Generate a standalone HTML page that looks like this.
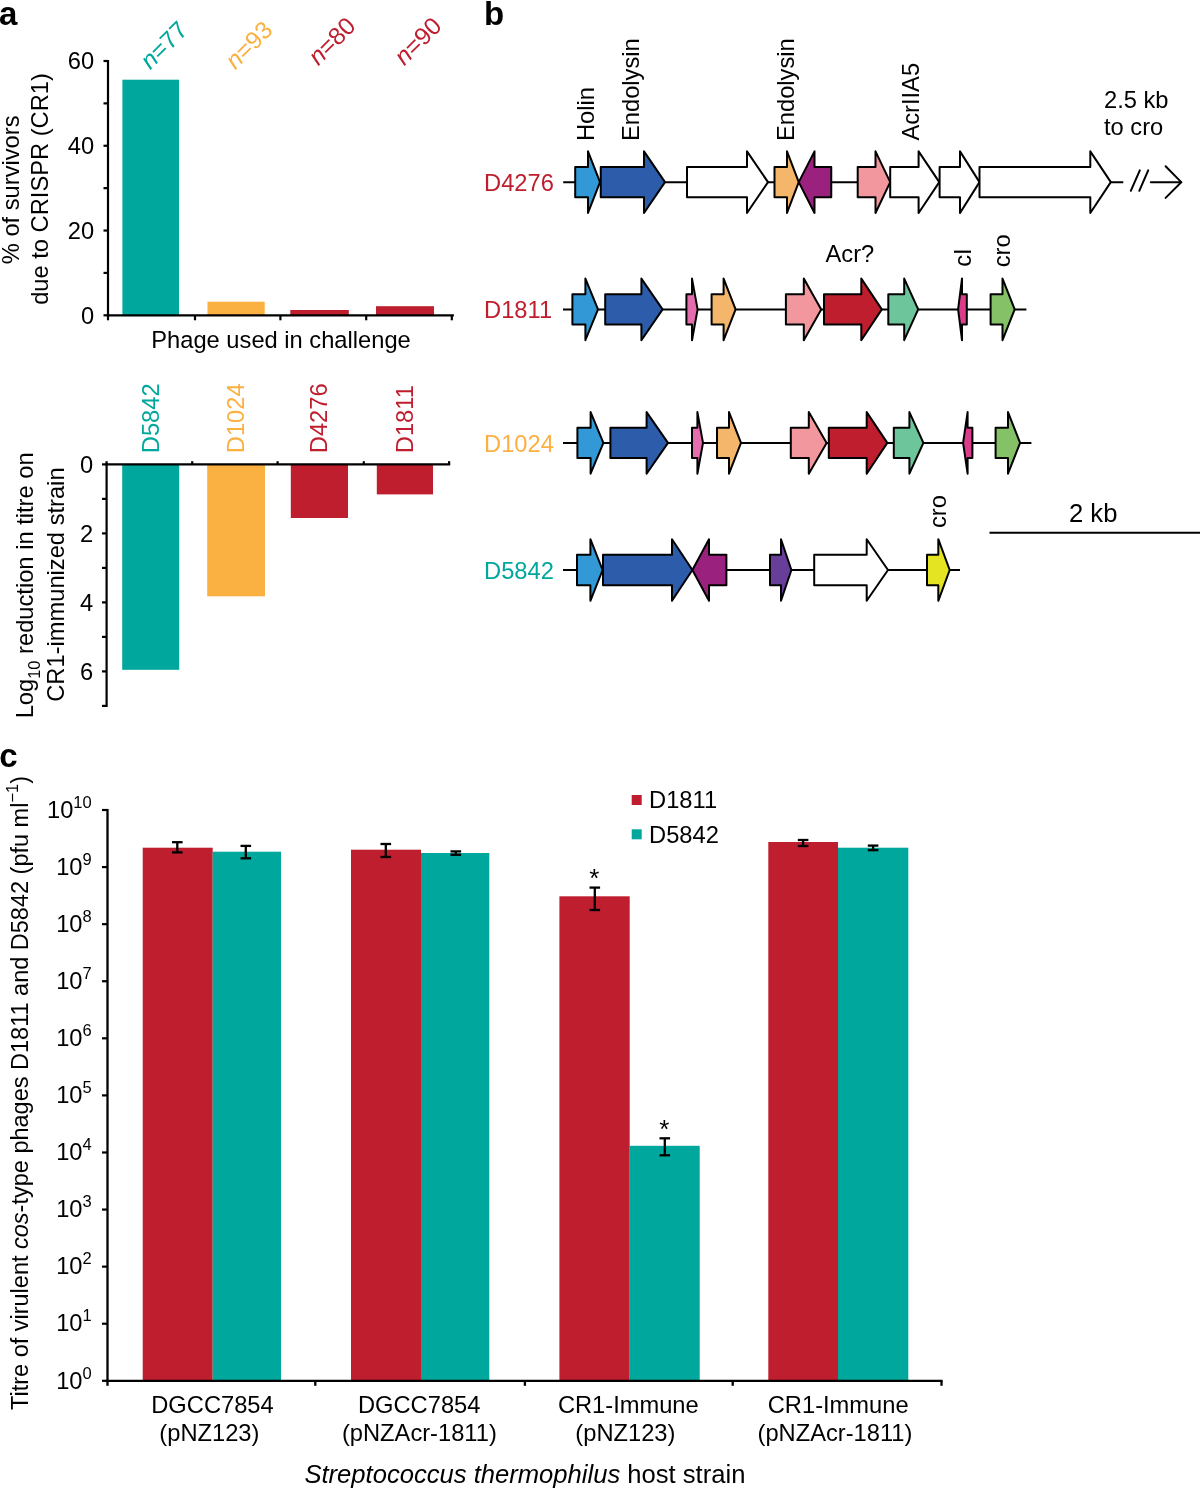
<!DOCTYPE html>
<html><head><meta charset="utf-8"><style>
html,body{margin:0;padding:0;background:#fff;width:1200px;height:1488px;overflow:hidden}
svg{display:block;will-change:transform}
text{font-family:"Liberation Sans",sans-serif}
</style></head><body>
<svg width="1200" height="1488" viewBox="0 0 1200 1488">
<text x="-1" y="24.7" font-size="33" fill="#000" text-anchor="start" font-weight="bold">a</text>
<text x="484" y="24.5" font-size="33" fill="#000" text-anchor="start" font-weight="bold">b</text>
<text x="-0.8" y="767.2" font-size="33" fill="#000" text-anchor="start" font-weight="bold">c</text>
<line x1="103.5" y1="61.0" x2="108" y2="61.0" stroke="#000" stroke-width="2.2" stroke-linecap="butt"/>
<line x1="103.5" y1="103.38333333333333" x2="108" y2="103.38333333333333" stroke="#000" stroke-width="2.2" stroke-linecap="butt"/>
<line x1="103.5" y1="145.76666666666665" x2="108" y2="145.76666666666665" stroke="#000" stroke-width="2.2" stroke-linecap="butt"/>
<line x1="103.5" y1="188.15000000000003" x2="108" y2="188.15000000000003" stroke="#000" stroke-width="2.2" stroke-linecap="butt"/>
<line x1="103.5" y1="230.53333333333333" x2="108" y2="230.53333333333333" stroke="#000" stroke-width="2.2" stroke-linecap="butt"/>
<line x1="103.5" y1="272.91666666666663" x2="108" y2="272.91666666666663" stroke="#000" stroke-width="2.2" stroke-linecap="butt"/>
<line x1="103.5" y1="315.30000000000007" x2="108" y2="315.30000000000007" stroke="#000" stroke-width="2.2" stroke-linecap="butt"/>
<text x="94.1" y="69.2" font-size="23.7" fill="#000" text-anchor="end">60</text>
<text x="94.1" y="153.96666666666667" font-size="23.7" fill="#000" text-anchor="end">40</text>
<text x="94.1" y="238.73333333333335" font-size="23.7" fill="#000" text-anchor="end">20</text>
<text x="94.1" y="323.5" font-size="23.7" fill="#000" text-anchor="end">0</text>
<rect x="122.4" y="79.7" width="56.599999999999994" height="235.60000000000002" fill="#00A79D"/>
<rect x="207.5" y="301.7" width="57.19999999999999" height="13.600000000000023" fill="#FBB042"/>
<rect x="290.3" y="310" width="58.5" height="5.300000000000011" fill="#BE1E2D"/>
<rect x="376" y="306.2" width="58" height="9.100000000000023" fill="#BE1E2D"/>
<line x1="108" y1="59.9" x2="108" y2="316.40000000000003" stroke="#000" stroke-width="2.2" stroke-linecap="butt"/>
<line x1="106.9" y1="315.3" x2="453.90000000000003" y2="315.3" stroke="#000" stroke-width="2.2" stroke-linecap="butt"/>
<line x1="108" y1="315.3" x2="108" y2="320.3" stroke="#000" stroke-width="2.2" stroke-linecap="butt"/>
<line x1="195" y1="315.3" x2="195" y2="320.3" stroke="#000" stroke-width="2.2" stroke-linecap="butt"/>
<line x1="280.4" y1="315.3" x2="280.4" y2="320.3" stroke="#000" stroke-width="2.2" stroke-linecap="butt"/>
<line x1="366.2" y1="315.3" x2="366.2" y2="320.3" stroke="#000" stroke-width="2.2" stroke-linecap="butt"/>
<line x1="451.8" y1="315.3" x2="451.8" y2="320.3" stroke="#000" stroke-width="2.2" stroke-linecap="butt"/>
<text x="151.3" y="347.8" font-size="23.7" fill="#000" text-anchor="start">Phage used in challenge</text>
<text transform="translate(19.2,189.85) rotate(-90)" font-size="23.7" fill="#000" text-anchor="middle">% of survivors</text>
<text transform="translate(48.1,189.0) rotate(-90)" font-size="23.7" fill="#000" text-anchor="middle">due to CRISPR (CR1)</text>
<text transform="translate(150.3,70.3) rotate(-45)" font-size="24.4" fill="#00A79D"><tspan font-style="italic">n</tspan>=77</text>
<text transform="translate(235.3,70.3) rotate(-45)" font-size="24.4" fill="#FBB042"><tspan font-style="italic">n</tspan>=93</text>
<text transform="translate(318.3,66.3) rotate(-45)" font-size="24.4" fill="#BE1E2D"><tspan font-style="italic">n</tspan>=80</text>
<text transform="translate(404.3,66.3) rotate(-45)" font-size="24.4" fill="#BE1E2D"><tspan font-style="italic">n</tspan>=90</text>
<line x1="102" y1="464.4" x2="106.6" y2="464.4" stroke="#000" stroke-width="2.2" stroke-linecap="butt"/>
<line x1="102" y1="498.9" x2="106.6" y2="498.9" stroke="#000" stroke-width="2.2" stroke-linecap="butt"/>
<line x1="102" y1="533.4" x2="106.6" y2="533.4" stroke="#000" stroke-width="2.2" stroke-linecap="butt"/>
<line x1="102" y1="567.9" x2="106.6" y2="567.9" stroke="#000" stroke-width="2.2" stroke-linecap="butt"/>
<line x1="102" y1="602.4" x2="106.6" y2="602.4" stroke="#000" stroke-width="2.2" stroke-linecap="butt"/>
<line x1="102" y1="636.9" x2="106.6" y2="636.9" stroke="#000" stroke-width="2.2" stroke-linecap="butt"/>
<line x1="102" y1="671.4" x2="106.6" y2="671.4" stroke="#000" stroke-width="2.2" stroke-linecap="butt"/>
<line x1="102" y1="705.9" x2="106.6" y2="705.9" stroke="#000" stroke-width="2.2" stroke-linecap="butt"/>
<text x="93.3" y="472.59999999999997" font-size="23.7" fill="#000" text-anchor="end">0</text>
<text x="93.3" y="541.6" font-size="23.7" fill="#000" text-anchor="end">2</text>
<text x="93.3" y="610.6" font-size="23.7" fill="#000" text-anchor="end">4</text>
<text x="93.3" y="679.6" font-size="23.7" fill="#000" text-anchor="end">6</text>
<rect x="122.2" y="464.4" width="56.999999999999986" height="205.39999999999998" fill="#00A79D"/>
<rect x="207.2" y="464.4" width="57.80000000000001" height="131.89999999999998" fill="#FBB042"/>
<rect x="290.8" y="464.4" width="57.19999999999999" height="53.60000000000002" fill="#BE1E2D"/>
<rect x="376.8" y="464.4" width="56.19999999999999" height="30.0" fill="#BE1E2D"/>
<line x1="106.6" y1="463.29999999999995" x2="106.6" y2="707.0" stroke="#000" stroke-width="2.2" stroke-linecap="butt"/>
<line x1="105.5" y1="464.4" x2="450.2" y2="464.4" stroke="#000" stroke-width="2.2" stroke-linecap="butt"/>
<line x1="106.6" y1="464.4" x2="106.6" y2="461.2" stroke="#000" stroke-width="2.2" stroke-linecap="butt"/>
<line x1="192.2" y1="464.4" x2="192.2" y2="461.2" stroke="#000" stroke-width="2.2" stroke-linecap="butt"/>
<line x1="277.6" y1="464.4" x2="277.6" y2="461.2" stroke="#000" stroke-width="2.2" stroke-linecap="butt"/>
<line x1="363.8" y1="464.4" x2="363.8" y2="461.2" stroke="#000" stroke-width="2.2" stroke-linecap="butt"/>
<line x1="449.1" y1="464.4" x2="449.1" y2="461.2" stroke="#000" stroke-width="2.2" stroke-linecap="butt"/>
<text transform="translate(159.3,453.2) rotate(-90)" font-size="23.7" fill="#00A79D" text-anchor="start">D5842</text>
<text transform="translate(244.3,453.2) rotate(-90)" font-size="23.7" fill="#FBB042" text-anchor="start">D1024</text>
<text transform="translate(327.3,453.2) rotate(-90)" font-size="23.7" fill="#BE1E2D" text-anchor="start">D4276</text>
<text transform="translate(412.8,453.2) rotate(-90)" font-size="23.7" fill="#BE1E2D" text-anchor="start">D1811</text>
<text transform="translate(33.2,585.4) rotate(-90)" font-size="23.7" text-anchor="middle">Log<tspan font-size="16.5" dy="6.8">10</tspan><tspan dy="-6.8"> reduction in titre on</tspan></text>
<text transform="translate(64.3,584.6) rotate(-90)" font-size="23.7" fill="#000" text-anchor="middle">CR1-immunized strain</text>
<line x1="563.2" y1="182.15" x2="1123.3" y2="182.15" stroke="#000" stroke-width="2" stroke-linecap="butt"/>
<polygon points="575.20,167.00 588.00,167.00 588.00,151.35 600.00,182.15 588.00,212.95 588.00,197.30 575.20,197.30" fill="#3399D6" stroke="#000" stroke-width="2" stroke-linejoin="round"/>
<polygon points="600.75,167.00 644.00,167.00 644.00,151.35 665.00,182.15 644.00,212.95 644.00,197.30 600.75,197.30" fill="#2D5DAA" stroke="#000" stroke-width="2" stroke-linejoin="round"/>
<polygon points="687.00,167.00 747.00,167.00 747.00,151.35 768.00,182.15 747.00,212.95 747.00,197.30 687.00,197.30" fill="#FFFFFF" stroke="#000" stroke-width="2" stroke-linejoin="round"/>
<polygon points="774.50,167.00 787.00,167.00 787.00,151.35 798.75,182.15 787.00,212.95 787.00,197.30 774.50,197.30" fill="#F4B66B" stroke="#000" stroke-width="2" stroke-linejoin="round"/>
<polygon points="831.25,167.00 814.50,167.00 814.50,151.35 798.75,182.15 814.50,212.95 814.50,197.30 831.25,197.30" fill="#9B217F" stroke="#000" stroke-width="2" stroke-linejoin="round"/>
<polygon points="857.70,167.00 875.50,167.00 875.50,151.35 890.20,182.15 875.50,212.95 875.50,197.30 857.70,197.30" fill="#F3979F" stroke="#000" stroke-width="2" stroke-linejoin="round"/>
<polygon points="890.20,167.00 918.60,167.00 918.60,151.35 939.30,182.15 918.60,212.95 918.60,197.30 890.20,197.30" fill="#FFFFFF" stroke="#000" stroke-width="2" stroke-linejoin="round"/>
<polygon points="939.60,167.00 960.00,167.00 960.00,151.35 979.50,182.15 960.00,212.95 960.00,197.30 939.60,197.30" fill="#FFFFFF" stroke="#000" stroke-width="2" stroke-linejoin="round"/>
<polygon points="979.50,167.00 1090.30,167.00 1090.30,151.35 1110.80,182.15 1090.30,212.95 1090.30,197.30 979.50,197.30" fill="#FFFFFF" stroke="#000" stroke-width="2" stroke-linejoin="round"/>
<line x1="1130.8" y1="190.8" x2="1139.8" y2="170.4" stroke="#000" stroke-width="2" stroke-linecap="round"/>
<line x1="1139.3" y1="190.8" x2="1148.2" y2="170.4" stroke="#000" stroke-width="2" stroke-linecap="round"/>
<line x1="1150.8" y1="182.15" x2="1181" y2="182.15" stroke="#000" stroke-width="2" stroke-linecap="round"/>
<polyline points="1165.6,166.3 1181.25,182.15 1165.6,197.9" fill="none" stroke="#000" stroke-width="2" stroke-linecap="round"/>
<text x="484.1" y="190.8" font-size="23.7" fill="#BE1E2D" text-anchor="start">D4276</text>
<text transform="translate(594,141) rotate(-90)" font-size="23.7" fill="#000" text-anchor="start">Holin</text>
<text transform="translate(639.2,141) rotate(-90)" font-size="23.7" fill="#000" text-anchor="start">Endolysin</text>
<text transform="translate(794.3,141) rotate(-90)" font-size="23.7" fill="#000" text-anchor="start">Endolysin</text>
<text transform="translate(919.4,140.6) rotate(-90)" font-size="23.7" fill="#000" text-anchor="start">AcrIIA5</text>
<text x="1104" y="107.5" font-size="23.7" fill="#000" text-anchor="start">2.5 kb</text>
<text x="1104" y="135.4" font-size="23.7" fill="#000" text-anchor="start">to cro</text>
<line x1="563" y1="309.4" x2="1026.4" y2="309.4" stroke="#000" stroke-width="2" stroke-linecap="butt"/>
<polygon points="572.40,294.25 585.40,294.25 585.40,278.60 598.00,309.40 585.40,340.20 585.40,324.55 572.40,324.55" fill="#3399D6" stroke="#000" stroke-width="2" stroke-linejoin="round"/>
<polygon points="605.20,294.25 641.40,294.25 641.40,278.60 662.60,309.40 641.40,340.20 641.40,324.55 605.20,324.55" fill="#2D5DAA" stroke="#000" stroke-width="2" stroke-linejoin="round"/>
<polygon points="686.40,294.25 692.00,294.25 692.00,278.60 697.60,309.40 692.00,340.20 692.00,324.55 686.40,324.55" fill="#E56DAD" stroke="#000" stroke-width="2" stroke-linejoin="round"/>
<polygon points="711.60,294.25 723.60,294.25 723.60,278.60 735.60,309.40 723.60,340.20 723.60,324.55 711.60,324.55" fill="#F4B66B" stroke="#000" stroke-width="2" stroke-linejoin="round"/>
<polygon points="785.90,294.25 803.80,294.25 803.80,278.60 821.20,309.40 803.80,340.20 803.80,324.55 785.90,324.55" fill="#F3979F" stroke="#000" stroke-width="2" stroke-linejoin="round"/>
<polygon points="824.00,294.25 861.30,294.25 861.30,278.60 881.80,309.40 861.30,340.20 861.30,324.55 824.00,324.55" fill="#BE1E2D" stroke="#000" stroke-width="2" stroke-linejoin="round"/>
<polygon points="888.30,294.25 904.20,294.25 904.20,278.60 918.20,309.40 904.20,340.20 904.20,324.55 888.30,324.55" fill="#6DC59B" stroke="#000" stroke-width="2" stroke-linejoin="round"/>
<polygon points="966.80,294.25 962.00,294.25 962.00,278.60 958.10,309.40 962.00,340.20 962.00,324.55 966.80,324.55" fill="#DB3D8A" stroke="#000" stroke-width="2" stroke-linejoin="round"/>
<polygon points="990.60,294.25 1002.50,294.25 1002.50,278.60 1014.70,309.40 1002.50,340.20 1002.50,324.55 990.60,324.55" fill="#84C167" stroke="#000" stroke-width="2" stroke-linejoin="round"/>
<text x="484.1" y="317.5" font-size="23.7" fill="#BE1E2D" text-anchor="start">D1811</text>
<text x="825.5" y="261.7" font-size="23.7" fill="#000" text-anchor="start">Acr?</text>
<text transform="translate(970.8,266.8) rotate(-90)" font-size="23.7" fill="#000" text-anchor="start">cI</text>
<text transform="translate(1010,267.3) rotate(-90)" font-size="23.7" fill="#000" text-anchor="start">cro</text>
<line x1="563" y1="442.9" x2="1031.4" y2="442.9" stroke="#000" stroke-width="2" stroke-linecap="butt"/>
<polygon points="577.40,427.75 590.60,427.75 590.60,412.10 603.40,442.90 590.60,473.70 590.60,458.05 577.40,458.05" fill="#3399D6" stroke="#000" stroke-width="2" stroke-linejoin="round"/>
<polygon points="610.40,427.75 646.60,427.75 646.60,412.10 668.00,442.90 646.60,473.70 646.60,458.05 610.40,458.05" fill="#2D5DAA" stroke="#000" stroke-width="2" stroke-linejoin="round"/>
<polygon points="692.00,427.75 697.40,427.75 697.40,412.10 703.00,442.90 697.40,473.70 697.40,458.05 692.00,458.05" fill="#E56DAD" stroke="#000" stroke-width="2" stroke-linejoin="round"/>
<polygon points="717.00,427.75 729.00,427.75 729.00,412.10 741.00,442.90 729.00,473.70 729.00,458.05 717.00,458.05" fill="#F4B66B" stroke="#000" stroke-width="2" stroke-linejoin="round"/>
<polygon points="790.80,427.75 808.80,427.75 808.80,412.10 826.60,442.90 808.80,473.70 808.80,458.05 790.80,458.05" fill="#F3979F" stroke="#000" stroke-width="2" stroke-linejoin="round"/>
<polygon points="828.80,427.75 866.70,427.75 866.70,412.10 887.30,442.90 866.70,473.70 866.70,458.05 828.80,458.05" fill="#BE1E2D" stroke="#000" stroke-width="2" stroke-linejoin="round"/>
<polygon points="893.80,427.75 909.40,427.75 909.40,412.10 923.40,442.90 909.40,473.70 909.40,458.05 893.80,458.05" fill="#6DC59B" stroke="#000" stroke-width="2" stroke-linejoin="round"/>
<polygon points="972.40,427.75 967.60,427.75 967.60,412.10 963.10,442.90 967.60,473.70 967.60,458.05 972.40,458.05" fill="#DB3D8A" stroke="#000" stroke-width="2" stroke-linejoin="round"/>
<polygon points="995.60,427.75 1008.00,427.75 1008.00,412.10 1020.10,442.90 1008.00,473.70 1008.00,458.05 995.60,458.05" fill="#84C167" stroke="#000" stroke-width="2" stroke-linejoin="round"/>
<text x="484.1" y="451.9" font-size="23.7" fill="#FBB042" text-anchor="start">D1024</text>
<line x1="563" y1="570.0" x2="960" y2="570.0" stroke="#000" stroke-width="2" stroke-linecap="butt"/>
<polygon points="577.00,554.85 590.40,554.85 590.40,539.20 602.60,570.00 590.40,600.80 590.40,585.15 577.00,585.15" fill="#3399D6" stroke="#000" stroke-width="2" stroke-linejoin="round"/>
<polygon points="603.00,554.85 672.00,554.85 672.00,539.20 692.40,570.00 672.00,600.80 672.00,585.15 603.00,585.15" fill="#2D5DAA" stroke="#000" stroke-width="2" stroke-linejoin="round"/>
<polygon points="726.40,554.85 709.00,554.85 709.00,539.20 692.40,570.00 709.00,600.80 709.00,585.15 726.40,585.15" fill="#9B217F" stroke="#000" stroke-width="2" stroke-linejoin="round"/>
<polygon points="770.00,554.85 781.00,554.85 781.00,539.20 791.40,570.00 781.00,600.80 781.00,585.15 770.00,585.15" fill="#683F98" stroke="#000" stroke-width="2" stroke-linejoin="round"/>
<polygon points="814.20,554.85 866.70,554.85 866.70,539.20 888.00,570.00 866.70,600.80 866.70,585.15 814.20,585.15" fill="#FFFFFF" stroke="#000" stroke-width="2" stroke-linejoin="round"/>
<polygon points="927.00,554.85 938.30,554.85 938.30,539.20 949.70,570.00 938.30,600.80 938.30,585.15 927.00,585.15" fill="#E4E423" stroke="#000" stroke-width="2" stroke-linejoin="round"/>
<text x="484.1" y="578.8" font-size="23.7" fill="#00A79D" text-anchor="start">D5842</text>
<text transform="translate(945.7,528) rotate(-90)" font-size="23.7" fill="#000" text-anchor="start">cro</text>
<line x1="989.5" y1="532.7" x2="1200" y2="532.7" stroke="#000" stroke-width="2" stroke-linecap="butt"/>
<text x="1093.2" y="521.5" font-size="25.6" fill="#000" text-anchor="middle">2 kb</text>
<line x1="102" y1="1380.8" x2="107.5" y2="1380.8" stroke="#000" stroke-width="2.2" stroke-linecap="butt"/>
<text x="91.7" y="1388.50" font-size="23.7" text-anchor="end">10<tspan font-size="16.5" dy="-10">0</tspan></text>
<line x1="102" y1="1323.72" x2="107.5" y2="1323.72" stroke="#000" stroke-width="2.2" stroke-linecap="butt"/>
<text x="91.7" y="1331.42" font-size="23.7" text-anchor="end">10<tspan font-size="16.5" dy="-10">1</tspan></text>
<line x1="102" y1="1266.6399999999999" x2="107.5" y2="1266.6399999999999" stroke="#000" stroke-width="2.2" stroke-linecap="butt"/>
<text x="91.7" y="1274.34" font-size="23.7" text-anchor="end">10<tspan font-size="16.5" dy="-10">2</tspan></text>
<line x1="102" y1="1209.56" x2="107.5" y2="1209.56" stroke="#000" stroke-width="2.2" stroke-linecap="butt"/>
<text x="91.7" y="1217.26" font-size="23.7" text-anchor="end">10<tspan font-size="16.5" dy="-10">3</tspan></text>
<line x1="102" y1="1152.48" x2="107.5" y2="1152.48" stroke="#000" stroke-width="2.2" stroke-linecap="butt"/>
<text x="91.7" y="1160.18" font-size="23.7" text-anchor="end">10<tspan font-size="16.5" dy="-10">4</tspan></text>
<line x1="102" y1="1095.4" x2="107.5" y2="1095.4" stroke="#000" stroke-width="2.2" stroke-linecap="butt"/>
<text x="91.7" y="1103.10" font-size="23.7" text-anchor="end">10<tspan font-size="16.5" dy="-10">5</tspan></text>
<line x1="102" y1="1038.32" x2="107.5" y2="1038.32" stroke="#000" stroke-width="2.2" stroke-linecap="butt"/>
<text x="91.7" y="1046.02" font-size="23.7" text-anchor="end">10<tspan font-size="16.5" dy="-10">6</tspan></text>
<line x1="102" y1="981.24" x2="107.5" y2="981.24" stroke="#000" stroke-width="2.2" stroke-linecap="butt"/>
<text x="91.7" y="988.94" font-size="23.7" text-anchor="end">10<tspan font-size="16.5" dy="-10">7</tspan></text>
<line x1="102" y1="924.16" x2="107.5" y2="924.16" stroke="#000" stroke-width="2.2" stroke-linecap="butt"/>
<text x="91.7" y="931.86" font-size="23.7" text-anchor="end">10<tspan font-size="16.5" dy="-10">8</tspan></text>
<line x1="102" y1="867.0799999999999" x2="107.5" y2="867.0799999999999" stroke="#000" stroke-width="2.2" stroke-linecap="butt"/>
<text x="91.7" y="874.78" font-size="23.7" text-anchor="end">10<tspan font-size="16.5" dy="-10">9</tspan></text>
<line x1="102" y1="810.0" x2="107.5" y2="810.0" stroke="#000" stroke-width="2.2" stroke-linecap="butt"/>
<text x="91.7" y="817.70" font-size="23.7" text-anchor="end">10<tspan font-size="16.5" dy="-10">10</tspan></text>
<rect x="142.7" y="847.7" width="70.0" height="533.0999999999999" fill="#BE1E2D"/>
<rect x="212.7" y="851.7" width="68.30000000000001" height="529.0999999999999" fill="#00A79D"/>
<rect x="351" y="849.7" width="70" height="531.0999999999999" fill="#BE1E2D"/>
<rect x="421" y="853" width="68.30000000000001" height="527.8" fill="#00A79D"/>
<rect x="559.4" y="896.3" width="70.30000000000007" height="484.5" fill="#BE1E2D"/>
<rect x="629.7" y="1145.8" width="70.0" height="235.0" fill="#00A79D"/>
<rect x="768.3" y="842" width="69.70000000000005" height="538.8" fill="#BE1E2D"/>
<rect x="838" y="847.7" width="70.29999999999995" height="533.0999999999999" fill="#00A79D"/>
<line x1="177.3" y1="842.2" x2="177.3" y2="852.4" stroke="#000" stroke-width="2.3" stroke-linecap="butt"/>
<line x1="172.0" y1="842.2" x2="182.60000000000002" y2="842.2" stroke="#000" stroke-width="2.3" stroke-linecap="butt"/>
<line x1="172.0" y1="852.4" x2="182.60000000000002" y2="852.4" stroke="#000" stroke-width="2.3" stroke-linecap="butt"/>
<line x1="245.8" y1="845.9" x2="245.8" y2="858.3" stroke="#000" stroke-width="2.3" stroke-linecap="butt"/>
<line x1="240.5" y1="845.9" x2="251.10000000000002" y2="845.9" stroke="#000" stroke-width="2.3" stroke-linecap="butt"/>
<line x1="240.5" y1="858.3" x2="251.10000000000002" y2="858.3" stroke="#000" stroke-width="2.3" stroke-linecap="butt"/>
<line x1="385.8" y1="844" x2="385.8" y2="857" stroke="#000" stroke-width="2.3" stroke-linecap="butt"/>
<line x1="380.5" y1="844" x2="391.1" y2="844" stroke="#000" stroke-width="2.3" stroke-linecap="butt"/>
<line x1="380.5" y1="857" x2="391.1" y2="857" stroke="#000" stroke-width="2.3" stroke-linecap="butt"/>
<line x1="455.8" y1="851.4" x2="455.8" y2="854.8" stroke="#000" stroke-width="2.3" stroke-linecap="butt"/>
<line x1="450.5" y1="851.4" x2="461.1" y2="851.4" stroke="#000" stroke-width="2.3" stroke-linecap="butt"/>
<line x1="450.5" y1="854.8" x2="461.1" y2="854.8" stroke="#000" stroke-width="2.3" stroke-linecap="butt"/>
<line x1="594.8" y1="887.6" x2="594.8" y2="910" stroke="#000" stroke-width="2.3" stroke-linecap="butt"/>
<line x1="589.5" y1="887.6" x2="600.0999999999999" y2="887.6" stroke="#000" stroke-width="2.3" stroke-linecap="butt"/>
<line x1="589.5" y1="910" x2="600.0999999999999" y2="910" stroke="#000" stroke-width="2.3" stroke-linecap="butt"/>
<line x1="664.8" y1="1138.3" x2="664.8" y2="1155.3" stroke="#000" stroke-width="2.3" stroke-linecap="butt"/>
<line x1="659.5" y1="1138.3" x2="670.0999999999999" y2="1138.3" stroke="#000" stroke-width="2.3" stroke-linecap="butt"/>
<line x1="659.5" y1="1155.3" x2="670.0999999999999" y2="1155.3" stroke="#000" stroke-width="2.3" stroke-linecap="butt"/>
<line x1="803.1" y1="840" x2="803.1" y2="846" stroke="#000" stroke-width="2.3" stroke-linecap="butt"/>
<line x1="797.8000000000001" y1="840" x2="808.4" y2="840" stroke="#000" stroke-width="2.3" stroke-linecap="butt"/>
<line x1="797.8000000000001" y1="846" x2="808.4" y2="846" stroke="#000" stroke-width="2.3" stroke-linecap="butt"/>
<line x1="873.1" y1="845.6" x2="873.1" y2="850.2" stroke="#000" stroke-width="2.3" stroke-linecap="butt"/>
<line x1="867.8000000000001" y1="845.6" x2="878.4" y2="845.6" stroke="#000" stroke-width="2.3" stroke-linecap="butt"/>
<line x1="867.8000000000001" y1="850.2" x2="878.4" y2="850.2" stroke="#000" stroke-width="2.3" stroke-linecap="butt"/>
<text x="594.4" y="886.6" font-size="26" fill="#000" text-anchor="middle">*</text>
<text x="664.4" y="1138.0" font-size="26" fill="#000" text-anchor="middle">*</text>
<line x1="107.5" y1="808.9" x2="107.5" y2="1381.8999999999999" stroke="#000" stroke-width="2.3" stroke-linecap="butt"/>
<line x1="106.4" y1="1380.8" x2="942.6" y2="1380.8" stroke="#000" stroke-width="2.3" stroke-linecap="butt"/>
<line x1="107.5" y1="1380.8" x2="107.5" y2="1385.8" stroke="#000" stroke-width="2.3" stroke-linecap="butt"/>
<line x1="315.3" y1="1380.8" x2="315.3" y2="1385.8" stroke="#000" stroke-width="2.3" stroke-linecap="butt"/>
<line x1="524.9" y1="1380.8" x2="524.9" y2="1385.8" stroke="#000" stroke-width="2.3" stroke-linecap="butt"/>
<line x1="732.7" y1="1380.8" x2="732.7" y2="1385.8" stroke="#000" stroke-width="2.3" stroke-linecap="butt"/>
<line x1="941.5" y1="1380.8" x2="941.5" y2="1385.8" stroke="#000" stroke-width="2.3" stroke-linecap="butt"/>
<rect x="631.7" y="795" width="10.0" height="10" fill="#BE1E2D"/>
<rect x="631.7" y="829.3" width="10.0" height="10.0" fill="#00A79D"/>
<text x="649.1" y="808.3" font-size="23.7" fill="#000" text-anchor="start">D1811</text>
<text x="649.1" y="842.7" font-size="23.7" fill="#000" text-anchor="start">D5842</text>
<text x="212.5" y="1413.1" font-size="23.7" fill="#000" text-anchor="middle">DGCC7854</text>
<text x="209.4" y="1441" font-size="23.7" fill="#000" text-anchor="middle">(pNZ123)</text>
<text x="419.2" y="1413.1" font-size="23.7" fill="#000" text-anchor="middle">DGCC7854</text>
<text x="419.4" y="1441" font-size="23.7" fill="#000" text-anchor="middle">(pNZAcr-1811)</text>
<text x="628.3" y="1413.1" font-size="23.7" fill="#000" text-anchor="middle">CR1-Immune</text>
<text x="625.4" y="1441" font-size="23.7" fill="#000" text-anchor="middle">(pNZ123)</text>
<text x="838.2" y="1413.1" font-size="23.7" fill="#000" text-anchor="middle">CR1-Immune</text>
<text x="835.0" y="1441" font-size="23.7" fill="#000" text-anchor="middle">(pNZAcr-1811)</text>
<text x="524.9" y="1482.5" font-size="25.6" text-anchor="middle"><tspan font-style="italic">Streptococcus thermophilus</tspan> host strain</text>
<text transform="translate(28.2,1093) rotate(-90)" font-size="23.5" text-anchor="middle">Titre of virulent <tspan font-style="italic">cos</tspan>-type phages D1811 and D5842 (pfu ml<tspan font-size="16.5" dy="-10">−1</tspan><tspan dy="10">)</tspan></text>
</svg>
</body></html>
